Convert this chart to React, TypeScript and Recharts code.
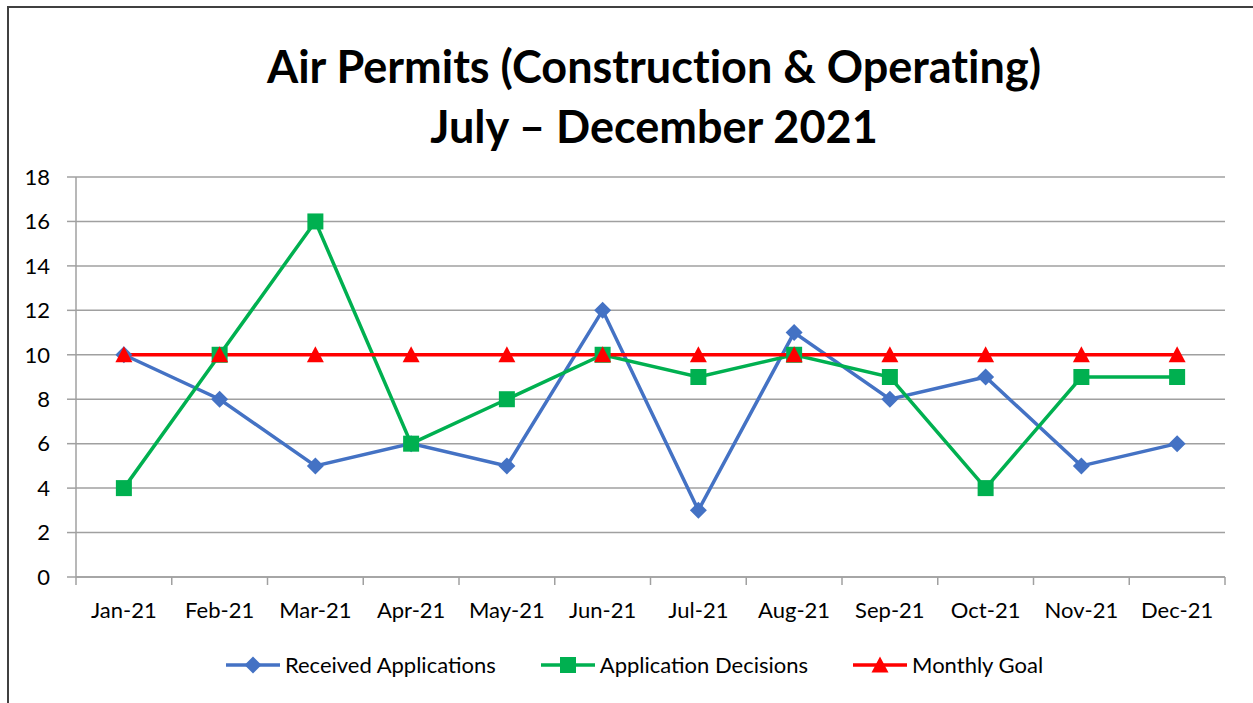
import { LineChart, Line, XAxis, YAxis, CartesianGrid, Legend } from "recharts";

const months = ["Jan-21", "Feb-21", "Mar-21", "Apr-21", "May-21", "Jun-21", "Jul-21", "Aug-21", "Sep-21", "Oct-21", "Nov-21", "Dec-21"];
const receivedApplications = [10, 8, 5, 6, 5, 12, 3, 11, 8, 9, 5, 6];
const applicationDecisions = [4, 10, 16, 6, 8, 10, 9, 10, 9, 4, 9, 9];
const monthlyGoal = [10, 10, 10, 10, 10, 10, 10, 10, 10, 10, 10, 10];
const yTicks = [0, 2, 4, 6, 8, 10, 12, 14, 16, 18];

const data = months.map((m, i) => ({
  idx: i,
  month: m,
  received: receivedApplications[i],
  decisions: applicationDecisions[i],
  goal: monthlyGoal[i],
}));

// ticks at every half step: half-steps get tick lines, whole steps get labels
const xTicks: number[] = [];
for (let i = -0.5; i <= months.length - 0.5; i += 0.5) xTicks.push(i);

const FONT = "Lato, 'Liberation Sans', sans-serif";
const BLUE = "#4472C4";
const GREEN = "#00B050";
const RED = "#FF0000";
const AXIS = "#A0A0A0";

const MonthTick = (props: any) => {
  const { x, y, payload } = props;
  const v = payload.value;
  if (!Number.isInteger(v)) {
    return <line x1={x} y1={y} x2={x} y2={y + 8} stroke={AXIS} strokeWidth={1.5} />;
  }
  return (
    <text x={x} y={y + 41} textAnchor="middle" fontSize={22} fontFamily={FONT} fill="#000">
      {months[v]}
    </text>
  );
};

const Diamond = (props: any) => {
  const { cx, cy, fill } = props;
  if (cx == null || cy == null) return null;
  const r = 8.5;
  return <path d={`M${cx},${cy - r}L${cx + r},${cy}L${cx},${cy + r}L${cx - r},${cy}Z`} fill={fill} />;
};

const Square = (props: any) => {
  const { cx, cy, fill } = props;
  if (cx == null || cy == null) return null;
  const r = 8;
  return <rect x={cx - r} y={cy - r} width={r * 2} height={r * 2} fill={fill} />;
};

const Triangle = (props: any) => {
  const { cx, cy, fill } = props;
  if (cx == null || cy == null) return null;
  const r = 8.5;
  return <path d={`M${cx},${cy - r}L${cx + r},${cy + r - 1}L${cx - r},${cy + r - 1}Z`} fill={fill} />;
};

const legendItems = [
  { label: "Received Applications", color: BLUE, Marker: Diamond },
  { label: "Application Decisions", color: GREEN, Marker: Square },
  { label: "Monthly Goal", color: RED, Marker: Triangle },
];

const LegendContent = () => (
  <div style={{ display: "flex", justifyContent: "center", gap: 45, fontFamily: FONT, fontSize: 22, paddingLeft: 16 }}>
    {legendItems.map((it) => (
      <div key={it.label} style={{ display: "flex", alignItems: "center" }}>
        <svg width={54} height={20}>
          <line x1={0} y1={10} x2={54} y2={10} stroke={it.color} strokeWidth={3.5} />
          <it.Marker cx={27} cy={10} fill={it.color} />
        </svg>
        <span style={{ marginLeft: 5 }}>{it.label}</span>
      </div>
    ))}
  </div>
);

export default function App() {
  return (
    <div style={{ position: "fixed", inset: 0, overflow: "hidden", background: "#fff" }}>
      <div
        style={{
          position: "absolute",
          left: 7,
          top: 6,
          width: 1300,
          height: 800,
          border: "2px solid #404040",
        }}
      />
      <div
        style={{
          position: "absolute",
          left: 0,
          top: 36,
          width: 1308,
          textAlign: "center",
          fontFamily: FONT,
          fontWeight: 700,
          fontSize: 45,
          lineHeight: "60px",
          color: "#000",
          fontVariantLigatures: "none",
        }}
      >
        <div>Air Permits (Construction &amp; Operating)</div>
        <div>July – December 2021</div>
      </div>
      <div style={{ position: "absolute", left: 0, top: 0 }}>
        <LineChart
          width={1253}
          height={703}
          data={data}
          margin={{ top: 177, right: 28, bottom: 66, left: 0 }}
        >
          <CartesianGrid stroke={AXIS} strokeWidth={1.5} vertical={false} />
          <XAxis
            dataKey="idx"
            type="number"
            domain={[-0.5, 11.5]}
            ticks={xTicks}
            interval={0}
            tick={<MonthTick />}
            tickLine={false}
            tickSize={0}
            tickMargin={0}
            height={60}
            stroke={AXIS}
            strokeWidth={1.5}
          />
          <YAxis
            domain={[0, 18]}
            ticks={yTicks}
            interval={0}
            width={76}
            tickSize={9}
            tickMargin={17}
            stroke={AXIS}
            strokeWidth={1.5}
            tick={{ fontSize: 22, fontFamily: FONT, fill: "#000" }}
          />
          <Legend
            layout="horizontal"
            verticalAlign="middle"
            content={<LegendContent />}
            wrapperStyle={{ position: "absolute", top: 651, left: 0, width: 1253 }}
          />
          <Line
            dataKey="received"
            name="Received Applications"
            stroke={BLUE}
            strokeWidth={3.5}
            dot={<Diamond fill={BLUE} />}
            isAnimationActive={false}
          />
          <Line
            dataKey="decisions"
            name="Application Decisions"
            stroke={GREEN}
            strokeWidth={3.5}
            dot={<Square fill={GREEN} />}
            isAnimationActive={false}
          />
          <Line
            dataKey="goal"
            name="Monthly Goal"
            stroke={RED}
            strokeWidth={3.5}
            dot={<Triangle fill={RED} />}
            isAnimationActive={false}
          />
        </LineChart>
      </div>
    </div>
  );
}
